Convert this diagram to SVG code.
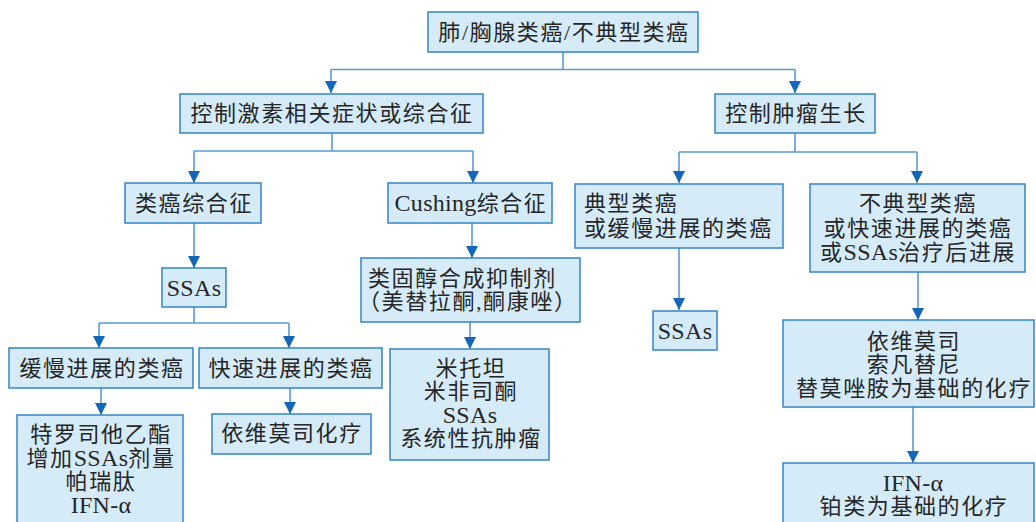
<svg xmlns="http://www.w3.org/2000/svg" width="1036" height="522" viewBox="0 0 1036 522">
<defs>
<marker id="ah" markerUnits="userSpaceOnUse" markerWidth="12" markerHeight="12" viewBox="0 0 12 12" refX="12" refY="6" orient="auto">
<path d="M0,0 L12,6 L0,12 Z" fill="#1466b8"/>
</marker>
<style>
.box{fill:#d5ebf8;stroke:#3584c6;stroke-width:1.5}
.ln{fill:none;stroke:#5b9bd5;stroke-width:1.6}
text{font-family:"Liberation Serif","Noto Sans CJK SC",serif;font-size:22px;fill:#262626;letter-spacing:1.6px}
.c{text-anchor:middle}
.lat{font-size:24px;letter-spacing:0.3px}
</style>
</defs>
<rect width="1036" height="522" fill="#ffffff"/>

<g id="connectors">
<path class="ln" d="M563,52 V69.5 M331,69.5 H795"/>
<path class="ln" d="M331,69.5 V93" marker-end="url(#ah)"/>
<path class="ln" d="M795,69.5 V93" marker-end="url(#ah)"/>
<path class="ln" d="M332,133 V151 M194,151 H473"/>
<path class="ln" d="M194,151 V183" marker-end="url(#ah)"/>
<path class="ln" d="M473,151 V183" marker-end="url(#ah)"/>
<path class="ln" d="M795,133 V152 M679,152 H917"/>
<path class="ln" d="M679,152 V183" marker-end="url(#ah)"/>
<path class="ln" d="M917,152 V183" marker-end="url(#ah)"/>
<path class="ln" d="M194,223 V268" marker-end="url(#ah)"/>
<path class="ln" d="M472,223 V258" marker-end="url(#ah)"/>
<path class="ln" d="M679,248 V310" marker-end="url(#ah)"/>
<path class="ln" d="M918,272 V320" marker-end="url(#ah)"/>
<path class="ln" d="M194,307 V323 M99,323 H289"/>
<path class="ln" d="M99,323 V348" marker-end="url(#ah)"/>
<path class="ln" d="M289,323 V348" marker-end="url(#ah)"/>
<path class="ln" d="M470,322 V349" marker-end="url(#ah)"/>
<path class="ln" d="M101,388 V415" marker-end="url(#ah)"/>
<path class="ln" d="M290,388 V414" marker-end="url(#ah)"/>
<path class="ln" d="M913,407 V463" marker-end="url(#ah)"/>
</g>

<g id="n-root"><rect class="box" x="428" y="12" width="270" height="40"/><text class="c" x="564" y="40">肺/胸腺类癌/不典型类癌</text></g>
<g id="n-hormone"><rect class="box" x="180" y="94" width="303" height="39"/><text class="c" x="332" y="121">控制激素相关症状或综合征</text></g>
<g id="n-growth"><rect class="box" x="715" y="94" width="160" height="39"/><text class="c" x="796" y="121">控制肿瘤生长</text></g>
<g id="n-carcinoid-syn"><rect class="box" x="125" y="183" width="136" height="40"/><text class="c" x="194" y="211">类癌综合征</text></g>
<g id="n-cushing"><rect class="box" x="388" y="183" width="164" height="40"/><text class="c" x="471" y="211"><tspan class="lat">Cushing</tspan>综合征</text></g>
<g id="n-typical"><rect class="box" x="575" y="184" width="208" height="64"/><text x="584" y="211">典型类癌</text><text x="584" y="236">或缓慢进展的类癌</text></g>
<g id="n-atypical"><rect class="box" x="810" y="184" width="215" height="88"/><text class="c" x="918" y="211">不典型类癌</text><text class="c" x="918" y="236">或快速进展的类癌</text><text class="c" x="918" y="260">或<tspan class="lat">SSAs</tspan>治疗后进展</text></g>
<g id="n-ssas1"><rect class="box" x="162" y="268" width="64" height="39"/><text class="c lat" x="194" y="296">SSAs</text></g>
<g id="n-steroid"><rect class="box" x="361" y="258" width="219" height="64"/><text x="368" y="286">类固醇合成抑制剂</text><text x="358" y="309">（美替拉酮,酮康唑）</text></g>
<g id="n-slow"><rect class="box" x="9" y="348" width="184" height="40"/><text class="c" x="102" y="376">缓慢进展的类癌</text></g>
<g id="n-fast"><rect class="box" x="199" y="348" width="183" height="40"/><text class="c" x="291" y="376">快速进展的类癌</text></g>
<g id="n-mitotane"><rect class="box" x="390" y="349" width="159" height="111"/><text class="c" x="471" y="376">米托坦</text><text class="c" x="471" y="399">米非司酮</text><text class="c lat" x="470" y="423">SSAs</text><text class="c" x="471" y="446">系统性抗肿瘤</text></g>
<g id="n-ssas2"><rect class="box" x="653" y="311" width="64" height="39"/><text class="c lat" x="685" y="339">SSAs</text></g>
<g id="n-telotristat"><rect class="box" x="17" y="415" width="166" height="115"/><text class="c" x="101" y="442">特罗司他乙酯</text><text class="c" x="101" y="466">增加<tspan class="lat">SSAs</tspan>剂量</text><text class="c" x="101" y="489">帕瑞肽</text><text class="c lat" x="101" y="513">IFN-α</text></g>
<g id="n-everolimus-chemo"><rect class="box" x="212" y="414" width="159" height="40"/><text class="c" x="292" y="441">依维莫司化疗</text></g>
<g id="n-everolimus"><rect class="box" x="783" y="320" width="251" height="87"/><text class="c" x="914" y="349">依维莫司</text><text class="c" x="914" y="372">索凡替尼</text><text class="c" x="914" y="396">替莫唑胺为基础的化疗</text></g>
<g id="n-ifn"><rect class="box" x="783" y="463" width="251" height="70"/><text class="c lat" x="913" y="491">IFN-α</text><text class="c" x="914" y="514">铂类为基础的化疗</text></g>
</svg>
